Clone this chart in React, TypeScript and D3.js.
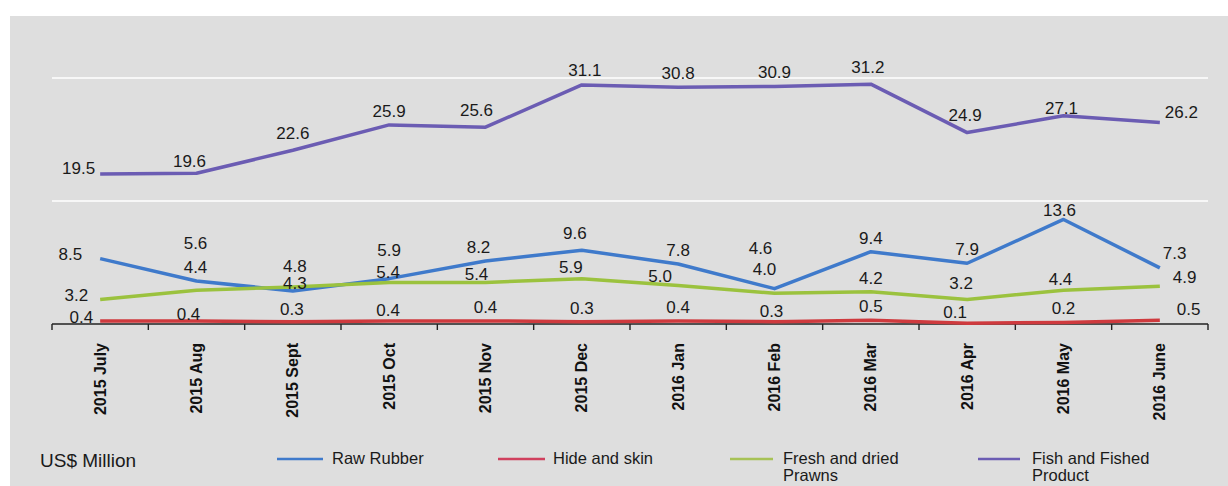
import React from "react";
import * as d3 from "d3";

const months = [
  "2015 July", "2015 Aug", "2015 Sept", "2015 Oct", "2015 Nov", "2015 Dec",
  "2016 Jan", "2016 Feb", "2016 Mar", "2016 Apr", "2016 May", "2016 June",
];

const rawRubber = [8.5, 5.6, 4.3, 5.9, 8.2, 9.6, 7.8, 4.6, 9.4, 7.9, 13.6, 7.3];
const hideSkin = [0.4, 0.4, 0.3, 0.4, 0.4, 0.3, 0.4, 0.3, 0.5, 0.1, 0.2, 0.5];
const prawns = [3.2, 4.4, 4.8, 5.4, 5.4, 5.9, 5.0, 4.0, 4.2, 3.2, 4.4, 4.9];
const fish = [19.5, 19.6, 22.6, 25.9, 25.6, 31.1, 30.8, 30.9, 31.2, 24.9, 27.1, 26.2];

const gridTicks = [16, 32];

const seriesNames = ["Raw Rubber", "Hide and skin", "Fresh and dried Prawns", "Fish and Fished Product"];

// label nudges: [dx, dy] relative to point (label centre); anchor optional
type Nudge = [number, number, string?];
const defaultLift = -14;
const nudges: Record<string, Nudge> = {
  "fish-0": [-5, -6, "end"],
  "fish-1": [-7, -12],
  "fish-2": [0, -17],
  "fish-4": [-9, -17],
  "fish-5": [3, -15],
  "fish-8": [-3, -17],
  "fish-9": [-2, -18],
  "fish-10": [-2, -8],
  "fish-11": [5, -11, "start"],
  "rubber-0": [-18, -5, "end"],
  "rubber-1": [-1, -38],
  "rubber-2": [2, -8],
  "rubber-3": [0, -29],
  "rubber-4": [-7, -14],
  "rubber-5": [-7, -17],
  "rubber-7": [-14, -41],
  "rubber-10": [-4, -9],
  "rubber-11": [3, -15, "start"],
  "prawns-0": [-12, -4, "end"],
  "prawns-1": [-1, -23],
  "prawns-2": [2, -21],
  "prawns-3": [-1, -10],
  "prawns-4": [-9, -8],
  "prawns-5": [-11, -12],
  "prawns-6": [-18, -10],
  "prawns-7": [-10, -24],
  "prawns-9": [-6, -16],
  "prawns-10": [-3, -11],
  "prawns-11": [13, -9, "start"],
  "hide-0": [-7, -4, "end"],
  "hide-1": [-8, -7],
  "hide-2": [-1, -13],
  "hide-3": [-1, -11],
  "hide-7": [-3, -11],
  "hide-9": [-12, -11],
  "hide-11": [17, -11, "start"],
};

const W = 1228;
const H = 486;

export default function App() {
  const x = d3.scaleBand<string>().domain(months).range([52, 1208]);
  const y = d3.scaleLinear().domain([0, 32]).range([324, 78]);
  const px = (i: number) => (x(months[i]) as number) + x.bandwidth() / 2;

  const series = [
    { key: "rubber", name: seriesNames[0], values: rawRubber, color: "#3f7acb" },
    { key: "hide", name: seriesNames[1], values: hideSkin, color: "#cf3a3e" },
    { key: "prawns", name: seriesNames[2], values: prawns, color: "#9bc23e" },
    { key: "fish", name: seriesNames[3], values: fish, color: "#6b5cb3" },
  ];

  const line = d3
    .line<number>()
    .x((_, i) => px(i))
    .y((d) => y(d));

  const tickXs = months.map((m) => x(m) as number).concat([x.range()[1]]);

  const legend = [
    { x1: 277, x2: 323, tx: 332, lines: ["Raw Rubber"], color: "#3f7acb" },
    { x1: 498, x2: 545, tx: 553, lines: ["Hide and skin"], color: "#d0405e" },
    { x1: 730, x2: 773, tx: 783, lines: ["Fresh and dried", "Prawns"], color: "#a7c256" },
    { x1: 978, x2: 1020, tx: 1032, lines: ["Fish and Fished", "Product"], color: "#6b5cb3" },
  ];

  const font = "'Liberation Sans', Arial, Helvetica, sans-serif";

  return (
    <svg
      width={W}
      height={H}
      style={{ position: "absolute", left: 0, top: 0, background: "#fff" }}
      fontFamily={font}
    >
      <rect x={10} y={16} width={W - 10} height={H - 16} fill="#dedede" />
      {gridTicks.map((t) => (
        <line key={t} x1={52} x2={1208} y1={y(t)} y2={y(t)} stroke="#fff" strokeWidth={1.6} />
      ))}
      {/* axis */}
      <line x1={52} x2={1208} y1={y(0)} y2={y(0)} stroke="#222" strokeWidth={1.4} />
      {tickXs.map((tx, i) => (
        <line key={i} x1={tx} x2={tx} y1={y(0)} y2={y(0) + 6} stroke="#222" strokeWidth={1.4} />
      ))}
      {/* series lines */}
      {series.map((s) => (
        <path
          key={s.key}
          d={line(s.values) || ""}
          fill="none"
          stroke={s.color}
          strokeWidth={3.5}
          strokeLinejoin="round"
        />
      ))}
      {/* data labels */}
      {series.map((s) =>
        s.values.map((v, i) => {
          const n = nudges[`${s.key}-${i}`] || [0, defaultLift];
          return (
            <text
              key={`${s.key}-${i}`}
              x={px(i) + n[0]}
              y={y(v) + n[1]}
              dy="0.35em"
              textAnchor={n[2] || "middle"}
              fontSize={17}
              fill="#1a1a1a"
            >
              {v.toFixed(1)}
            </text>
          );
        })
      )}
      {/* x labels */}
      {months.map((m, i) => (
        <text
          key={m}
          transform={`translate(${px(i)},343) rotate(-90)`}
          textAnchor="end"
          dy="0.35em"
          fontSize={16}
          fontWeight="bold"
          fill="#111"
        >
          {m}
        </text>
      ))}
      {/* legend */}
      <text x={40} y={460} dy="0.35em" fontSize={19} fill="#1a1a1a">
        US$ Million
      </text>
      {legend.map((l) => (
        <g key={l.tx}>
          <line x1={l.x1} x2={l.x2} y1={459} y2={459} stroke={l.color} strokeWidth={2.5} />
          {l.lines.map((t, j) => (
            <text key={t} x={l.tx} y={458 + j * 17} dy="0.35em" fontSize={16.5} fill="#1a1a1a">
              {t}
            </text>
          ))}
        </g>
      ))}
    </svg>
  );
}
